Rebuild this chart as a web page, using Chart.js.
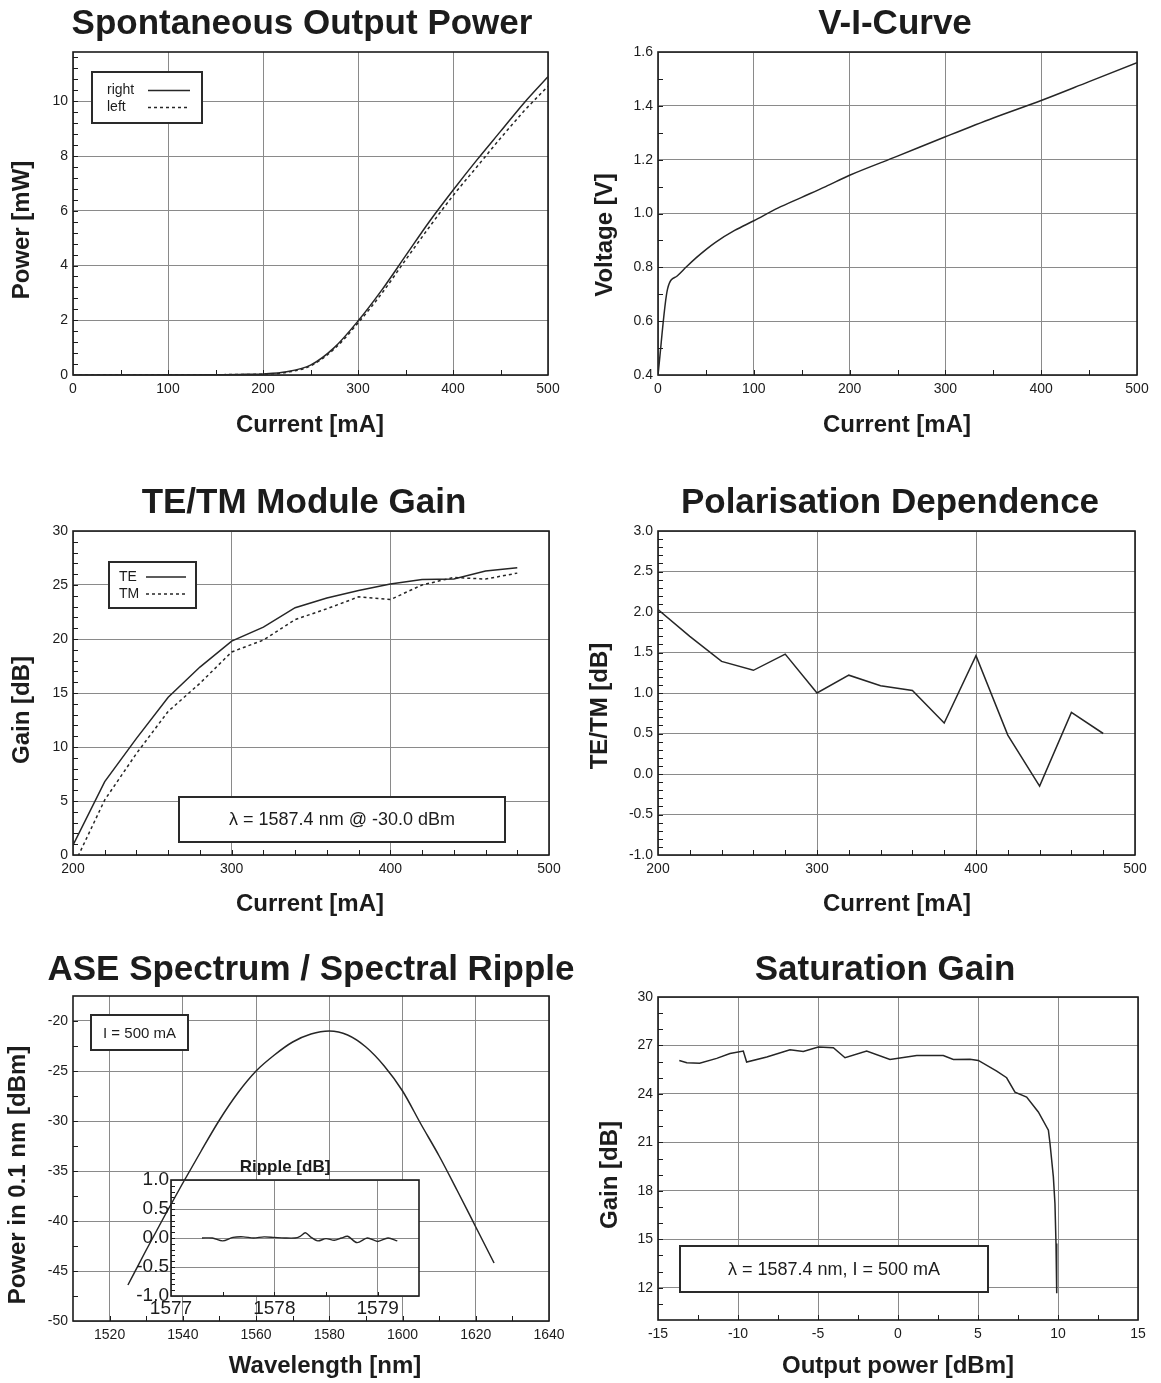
<!DOCTYPE html>
<html>
<head>
<meta charset="utf-8">
<title>Amplifier module characterisation</title>
<script src="https://cdn.jsdelivr.net/npm/chart.js@4.4.1/dist/chart.umd.min.js"></script>
<style>
  html, body { margin: 0; padding: 0; background: #ffffff; }
  #page { position: relative; width: 1161px; height: 1383px; overflow: hidden; background: #ffffff; }
  #page canvas { position: absolute; }
</style>
</head>
<body>
<div id="page"></div>
<script>
// ---------------- measured data ----------------
// Spontaneous output power vs. drive current
const spontCurrent = [0, 25, 50, 75, 100, 125, 150, 175, 200, 225, 250, 275, 300, 325, 350, 375, 400, 425, 450, 475, 500];
const spontRight   = [0, 0, 0, 0, 0, 0, 0.01, 0.02, 0.04, 0.12, 0.36, 1.0, 1.97, 3.1, 4.35, 5.6, 6.75, 7.85, 8.9, 9.95, 10.9];
const spontLeft    = [0, 0, 0, 0, 0, 0, 0.01, 0.02, 0.03, 0.10, 0.33, 0.95, 1.9, 2.98, 4.2, 5.4, 6.55, 7.6, 8.65, 9.65, 10.55];
const spontXTicks  = [0, 100, 200, 300, 400, 500];
const spontYTicks  = [0, 2, 4, 6, 8, 10];

// Voltage vs. current
const viCurrent = [0, 10, 20, 30, 40, 50, 60, 80, 100, 125, 150, 175, 200, 250, 300, 350, 400, 450, 500];
const viVoltage = [0.40, 0.72, 0.768, 0.803, 0.836, 0.866, 0.893, 0.937, 0.973, 1.02, 1.06, 1.10, 1.142, 1.213, 1.285, 1.355, 1.42, 1.49, 1.56];
const viXTicks  = [0, 100, 200, 300, 400, 500];
const viYTicks  = [0.4, 0.6, 0.8, 1.0, 1.2, 1.4, 1.6];

// Module gain for TE / TM input polarisation
const gainCurrent = [200, 220, 240, 260, 280, 300, 320, 340, 360, 380, 400, 420, 440, 460, 480];
const gainTE      = [0.9, 6.8, 10.8, 14.6, 17.4, 19.8, 21.1, 22.9, 23.8, 24.5, 25.1, 25.5, 25.55, 26.3, 26.6];
const gainTM      = [-1.1, 5.1, 9.4, 13.3, 15.9, 18.8, 19.9, 21.8, 22.8, 23.9, 23.65, 25.0, 25.7, 25.55, 26.1];
const gainXTicks  = [200, 300, 400, 500];
const gainYTicks  = [0, 5, 10, 15, 20, 25, 30];

// Polarisation dependent gain
const polCurrent = [200, 220, 240, 260, 280, 300, 320, 340, 360, 380, 400, 420, 440, 460, 480];
const polRatio   = [2.03, 1.70, 1.39, 1.28, 1.48, 1.00, 1.22, 1.09, 1.03, 0.63, 1.46, 0.48, -0.15, 0.76, 0.50];
const polXTicks  = [200, 300, 400, 500];
const polYTicks  = [-1.0, -0.5, 0.0, 0.5, 1.0, 1.5, 2.0, 2.5, 3.0];

// ASE spectrum at I = 500 mA
const aseWavelength = [1525, 1530, 1535, 1540, 1545, 1550, 1555, 1560, 1565, 1570, 1575, 1580, 1585, 1590, 1595, 1600, 1605, 1610, 1615, 1620, 1625];
const asePower      = [-46.4, -42.9, -39.5, -36.2, -33.0, -29.9, -27.2, -25.0, -23.4, -22.1, -21.3, -21.0, -21.4, -22.6, -24.5, -27.0, -30.3, -33.5, -37.0, -40.6, -44.2];
const aseXTicks     = [1520, 1540, 1560, 1580, 1600, 1620, 1640];
const aseYTicks     = [-50, -45, -40, -35, -30, -25, -20];

// Spectral ripple around the gain peak
const rippleWavelength = [1577.30, 1577.40, 1577.50, 1577.60, 1577.70, 1577.80, 1577.90, 1578.00, 1578.10, 1578.20, 1578.25, 1578.30, 1578.35, 1578.42, 1578.50, 1578.58, 1578.65, 1578.71, 1578.80, 1578.90, 1579.00, 1579.10, 1579.19];
const rippleValue      = [0.00, 0.00, -0.05, 0.01, 0.02, 0.00, 0.02, 0.01, 0.00, 0.00, 0.03, 0.09, 0.02, -0.05, -0.01, -0.04, 0.00, 0.03, -0.08, 0.00, -0.06, 0.00, -0.05];
const rippleXTicks     = [1577, 1578, 1579];
const rippleYTicks     = [-1.0, -0.5, 0.0, 0.5, 1.0];

// Gain saturation at 1587.4 nm
const satOutput = [-13.67, -13.2, -12.4, -11.33, -10.5, -9.67, -9.46, -8.2, -6.75, -5.92, -4.98, -4.04, -3.31, -1.96, -0.5, 1.17, 2.83, 3.46, 4.5, 5.02, 6.17, 6.79, 7.31, 8.04, 8.77, 9.4, 9.5, 9.71, 9.81, 9.875, 9.92];
const satGain   = [26.07, 25.93, 25.9, 26.2, 26.5, 26.65, 25.97, 26.28, 26.73, 26.63, 26.9, 26.86, 26.24, 26.65, 26.13, 26.38, 26.38, 26.13, 26.15, 26.07, 25.41, 25.0, 24.11, 23.8, 22.88, 21.75, 20.93, 18.86, 17.2, 14.74, 11.65];
const satXTicks = [-15, -10, -5, 0, 5, 10, 15];
const satYTicks = [12, 15, 18, 21, 24, 27, 30];

// ---------------- styling ----------------
const TEXT = '#1c1c1c';
const GRID = '#8a8a8a';
const FRAME = '#1c1c1c';
const LINE = '#262626';
const SANS = "'Liberation Sans', Arial, Helvetica, sans-serif";
const NARROW = "'Liberation Sans Narrow', 'Arial Narrow', 'Liberation Sans', Arial, sans-serif";
const TITLE_FONT = 'bold 35px ' + SANS;
const AXIS_FONT = 'bold 24px ' + SANS;
const TICK_FONT = {family: NARROW, size: 14};

const page = document.getElementById('page');

function createCanvas(box) {
  const c = document.createElement('canvas');
  c.width = box.w; c.height = box.h;
  c.style.left = box.x + 'px'; c.style.top = box.y + 'px';
  c.style.width = box.w + 'px'; c.style.height = box.h + 'px';
  page.appendChild(c);
  return c;
}

const int = v => String(Math.round(v));
const one = v => (Math.abs(v) < 1e-9 ? 0 : v).toFixed(1);

// linear axis whose box fills the whole margin, so the chart area lands on a fixed rectangle
function axis(min, max, tickValues, fmt, font, pad) {
  return {
    type: 'linear', min, max,
    afterFit(s) {
      const m = s.chart.$margins;
      if (s.isHorizontal()) s.height = m.bottom; else s.width = m.left;
    },
    afterBuildTicks(s) { s.ticks = tickValues.map(v => ({value: v})); },
    grid: {color: GRID, lineWidth: 1, drawTicks: false},
    border: {display: false},
    ticks: {font: font || TICK_FONT, color: TEXT, padding: pad == null ? 5 : pad,
            maxRotation: 0, minRotation: 0, autoSkip: false, callback: v => fmt(v)}
  };
}

function series(label, xs, ys, dash, extra) {
  return Object.assign({
    label,
    data: xs.map((x, i) => ({x, y: ys[i]})),
    borderColor: LINE, borderWidth: 1.5, borderDash: dash || [],
    pointRadius: 0, fill: false, tension: 0
  }, extra || {});
}

// frame, inward minor ticks, legend boxes, notes and titles
const decor = {
  id: 'decor',
  beforeDatasetsDraw(chart, args, o) {
    const ctx = chart.ctx, a = chart.chartArea;
    const [ox, oy] = o.origin;
    const xs = chart.scales.x, ys = chart.scales.y;
    ctx.save();
    (o.masks || []).forEach(m => {
      ctx.fillStyle = '#ffffff';
      ctx.fillRect(m.x - ox, m.y - oy, m.w, m.h);
    });
    ctx.strokeStyle = FRAME; ctx.lineWidth = 1;
    const len = o.tickLen || 5;
    if (o.minorX) {
      const n = Math.round((xs.max - xs.min) / o.minorX);
      for (let i = 1; i < n; i++) {
        const p = Math.round(xs.getPixelForValue(xs.min + i * o.minorX)) + 0.5;
        ctx.beginPath(); ctx.moveTo(p, a.bottom); ctx.lineTo(p, a.bottom - len); ctx.stroke();
      }
    }
    if (o.minorY) {
      const n = Math.round((ys.max - ys.min) / o.minorY);
      for (let i = 1; i < n; i++) {
        const p = Math.round(ys.getPixelForValue(ys.min + i * o.minorY)) + 0.5;
        ctx.beginPath(); ctx.moveTo(a.left, p); ctx.lineTo(a.left + len, p); ctx.stroke();
      }
    }
    ctx.lineWidth = o.frameWidth || 1.6;
    ctx.strokeRect(a.left, a.top, a.right - a.left, a.bottom - a.top);
    ctx.restore();
  },
  afterDatasetsDraw(chart, args, o) {
    const ctx = chart.ctx;
    const [ox, oy] = o.origin;
    ctx.save();
    (o.boxes || []).forEach(b => {
      ctx.fillStyle = '#ffffff';
      ctx.fillRect(b.x - ox, b.y - oy, b.w, b.h);
      ctx.strokeStyle = '#2a2a2a'; ctx.lineWidth = 2;
      ctx.strokeRect(b.x - ox, b.y - oy, b.w, b.h);
      ctx.fillStyle = TEXT; ctx.font = b.font;
      ctx.textAlign = 'center'; ctx.textBaseline = 'middle';
      ctx.fillText(b.text, b.x - ox + b.w / 2, b.y - oy + b.h / 2 + 1);
    });
    const lg = o.legend;
    if (lg) {
      ctx.fillStyle = '#ffffff';
      ctx.fillRect(lg.x - ox, lg.y - oy, lg.w, lg.h);
      ctx.strokeStyle = '#2a2a2a'; ctx.lineWidth = 2;
      ctx.strokeRect(lg.x - ox, lg.y - oy, lg.w, lg.h);
      chart.data.datasets.forEach((ds, i) => {
        const ry = lg.rows[i] - oy;
        ctx.fillStyle = TEXT; ctx.font = lg.font;
        ctx.textAlign = 'left'; ctx.textBaseline = 'middle';
        ctx.fillText(ds.label, lg.textX - ox, ry);
        ctx.strokeStyle = LINE; ctx.lineWidth = 1.5;
        ctx.setLineDash(ds.borderDash || []);
        ctx.beginPath(); ctx.moveTo(lg.line[0] - ox, ry); ctx.lineTo(lg.line[1] - ox, ry); ctx.stroke();
        ctx.setLineDash([]);
      });
    }
    ctx.restore();
  },
  afterDraw(chart, args, o) {
    const ctx = chart.ctx;
    const [ox, oy] = o.origin;
    (o.texts || []).forEach(t => {
      ctx.save();
      ctx.fillStyle = TEXT; ctx.font = t.font;
      ctx.textAlign = 'center'; ctx.textBaseline = 'middle';
      ctx.translate(t.x - ox, t.y - oy);
      if (t.rotate) ctx.rotate(-Math.PI / 2);
      ctx.fillText(t.text, 0, 0);
      ctx.restore();
    });
  }
};

function build(p) {
  const cv = p.canvas, a = p.area;
  const c = createCanvas(cv);
  const margins = {left: a.l - cv.x, top: a.t - cv.y, right: cv.x + cv.w - a.r, bottom: cv.y + cv.h - a.b};
  return new Chart(c, {
    type: 'line',
    data: {datasets: p.datasets},
    options: {
      responsive: false, animation: false, events: [], devicePixelRatio: 1,
      layout: {padding: {left: 0, top: margins.top, right: margins.right, bottom: 0}},
      plugins: {
        legend: {display: false}, title: {display: false}, tooltip: {enabled: false},
        decor: Object.assign({origin: [cv.x, cv.y]}, p.decor)
      },
      scales: {x: p.x, y: p.y}
    },
    plugins: [decor, {id: 'margins', beforeInit(ch) { ch.$margins = margins; }}]
  });
}

// ---------------- panels ----------------
const INSET_AREA = {l: 171, t: 1180, r: 419, b: 1296};

// Spontaneous output power
build({
  canvas: {x: 0, y: 0, w: 580, h: 460}, area: {l: 73, t: 52, r: 548, b: 375},
  datasets: [
    series('right', spontCurrent, spontRight, [], {cubicInterpolationMode: 'monotone'}),
    series('left', spontCurrent, spontLeft, [3, 3], {cubicInterpolationMode: 'monotone'})
  ],
  x: axis(0, 500, spontXTicks, int, null, 6),
  y: axis(0, 11.8, spontYTicks, int),
  decor: {
    minorX: 50, minorY: 0.4,
    legend: {x: 92, y: 72, w: 110, h: 51, rows: [90.5, 107.5], textX: 107, line: [148, 190], font: '14px ' + SANS},
    texts: [
      {text: 'Spontaneous Output Power', x: 302, y: 24, font: TITLE_FONT},
      {text: 'Current [mA]', x: 310, y: 425, font: AXIS_FONT},
      {text: 'Power [mW]', x: 22, y: 230, font: AXIS_FONT, rotate: true}
    ]
  }
});

// Voltage-current curve
build({
  canvas: {x: 580, y: 0, w: 581, h: 460}, area: {l: 658, t: 52, r: 1137, b: 375},
  datasets: [series('V', viCurrent, viVoltage, [], {cubicInterpolationMode: 'monotone'})],
  x: axis(0, 500, viXTicks, int, null, 6),
  y: axis(0.4, 1.6, viYTicks, one),
  decor: {
    minorX: 50, minorY: 0.1,
    texts: [
      {text: 'V-I-Curve', x: 895, y: 24, font: TITLE_FONT},
      {text: 'Current [mA]', x: 897, y: 425, font: AXIS_FONT},
      {text: 'Voltage [V]', x: 605, y: 235, font: AXIS_FONT, rotate: true}
    ]
  }
});

// TE/TM module gain
build({
  canvas: {x: 0, y: 460, w: 580, h: 480}, area: {l: 73, t: 531, r: 549, b: 855},
  datasets: [
    series('TE', gainCurrent, gainTE, []),
    series('TM', gainCurrent, gainTM, [3, 3])
  ],
  x: axis(200, 500, gainXTicks, int, null, 6),
  y: axis(0, 30, gainYTicks, int),
  decor: {
    minorX: 20, minorY: 1,
    legend: {x: 109, y: 562, w: 87, h: 46, rows: [577, 594], textX: 119, line: [146, 186], font: '14px ' + SANS},
    boxes: [{x: 179, y: 797, w: 326, h: 45, text: 'λ = 1587.4 nm @ -30.0 dBm', font: '18px ' + SANS}],
    texts: [
      {text: 'TE/TM Module Gain', x: 304, y: 503, font: TITLE_FONT},
      {text: 'Current [mA]', x: 310, y: 904, font: AXIS_FONT},
      {text: 'Gain [dB]', x: 22, y: 710, font: AXIS_FONT, rotate: true}
    ]
  }
});

// Polarisation dependence
build({
  canvas: {x: 580, y: 460, w: 581, h: 480}, area: {l: 658, t: 531, r: 1135, b: 855},
  datasets: [series('TE/TM', polCurrent, polRatio, [])],
  x: axis(200, 500, polXTicks, int, null, 6),
  y: axis(-1, 3, polYTicks, one),
  decor: {
    minorX: 20, minorY: 0.1,
    texts: [
      {text: 'Polarisation Dependence', x: 890, y: 503, font: TITLE_FONT},
      {text: 'Current [mA]', x: 897, y: 904, font: AXIS_FONT},
      {text: 'TE/TM [dB]', x: 600, y: 706, font: AXIS_FONT, rotate: true}
    ]
  }
});

// ASE spectrum
build({
  canvas: {x: 0, y: 940, w: 580, h: 443}, area: {l: 73, t: 996, r: 549, b: 1321},
  datasets: [series('ASE', aseWavelength, asePower, [], {cubicInterpolationMode: 'monotone'})],
  x: axis(1510, 1640, aseXTicks, int, null, 6),
  y: axis(-50, -17.5, aseYTicks, int),
  decor: {
    minorX: 10, minorY: 2.5,
    masks: [{x: INSET_AREA.l, y: INSET_AREA.t, w: INSET_AREA.r - INSET_AREA.l, h: INSET_AREA.b - INSET_AREA.t}],
    boxes: [{x: 91, y: 1015, w: 97, h: 35, text: 'I = 500 mA', font: '15px ' + SANS}],
    texts: [
      {text: 'ASE Spectrum / Spectral Ripple', x: 311, y: 970, font: TITLE_FONT},
      {text: 'Wavelength [nm]', x: 325, y: 1366, font: AXIS_FONT},
      {text: 'Power in 0.1 nm [dBm]', x: 18, y: 1175, font: AXIS_FONT, rotate: true}
    ]
  }
});

// Ripple inset
build({
  canvas: {x: 100, y: 1150, w: 340, h: 180}, area: INSET_AREA,
  datasets: [series('Ripple', rippleWavelength, rippleValue, [], {tension: 0.3, borderWidth: 1.4})],
  x: axis(1577, 1579.4, rippleXTicks, int, {family: SANS, size: 19}, 1),
  y: axis(-1, 1, rippleYTicks, one, {family: SANS, size: 19}, 2),
  decor: {
    minorX: 0.5, minorY: 0.1, tickLen: 4,
    texts: [{text: 'Ripple [dB]', x: 285, y: 1167, font: 'bold 17px ' + SANS}]
  }
});

// Saturation gain
build({
  canvas: {x: 580, y: 940, w: 581, h: 443}, area: {l: 658, t: 997, r: 1138, b: 1320},
  datasets: [series('Gain', satOutput, satGain, [])],
  x: axis(-15, 15, satXTicks, int, null, 6),
  y: axis(10, 30, satYTicks, int),
  decor: {
    minorX: 2.5, minorY: 1,
    boxes: [{x: 680, y: 1246, w: 308, h: 46, text: 'λ = 1587.4 nm, I = 500 mA', font: '18px ' + SANS}],
    texts: [
      {text: 'Saturation Gain', x: 885, y: 970, font: TITLE_FONT},
      {text: 'Output power [dBm]', x: 898, y: 1366, font: AXIS_FONT},
      {text: 'Gain [dB]', x: 610, y: 1175, font: AXIS_FONT, rotate: true}
    ]
  }
});
</script>
</body>
</html>
